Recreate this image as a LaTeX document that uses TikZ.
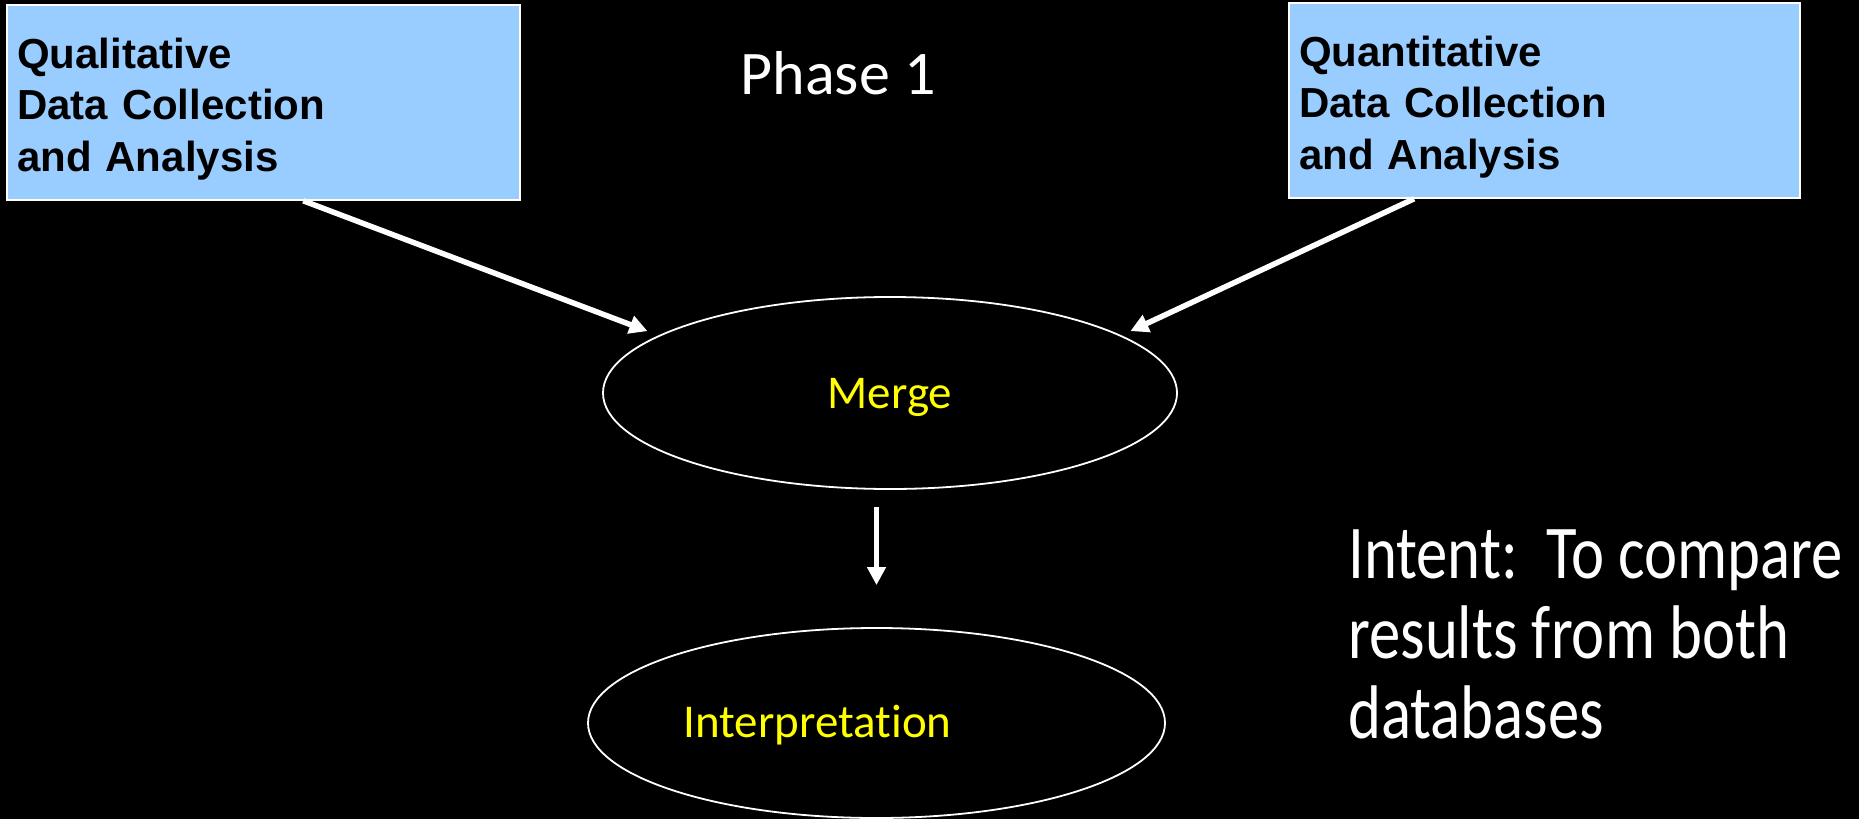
\documentclass[tikz,border=0pt]{standalone}
\usepackage{fontspec}
\usepackage{tikz}
\usetikzlibrary{shapes.geometric,arrows.meta}
\newfontfamily\boxfont{Liberation Sans}
\newfontfamily\slidefont{Carlito}[Ligatures=NoCommon]
\newfontfamily\intentfont{Carlito}[FakeStretch=0.825, Ligatures=NoCommon]
\definecolor{boxblue}{HTML}{99CCFF}
\definecolor{ovalyellow}{HTML}{FFFF00}

\begin{document}
\begin{tikzpicture}[x=1pt, y=-1pt,
	datbox/.style={draw=white, line width=1.5pt, fill=boxblue, rectangle, align=left, inner xsep=10pt, text height=43pt, minimum height=195pt, font=\boxfont\bfseries\fontsize{42}{51.5}\selectfont},
	oval/.style={draw=white, line width=1.8pt, ellipse},
	ovaltext/.style={text=ovalyellow, anchor=base, font=\slidefont\fontsize{47}{56}\selectfont},
	flow/.style={draw=white, line width=5.5pt, -{Triangle[length=18pt, width=18pt]}}]
				\useasboundingbox (0, 0) rectangle (1859, 819);
				\fill[black] (0, 0) rectangle (1859, 819);
				
				\path (263.5, 102.5) node[datbox, text width=493pt] (qual){Qualitative\\Data Collection\\and Analysis}
				(1544.5, 100.5) node[datbox, text width=491pt] (quant){Quantitative\\Data Collection\\and Analysis}
				(890, 393) node[oval, minimum width=574pt, minimum height=192pt] (merge){}
				(876.5, 723) node[oval, minimum width=577pt, minimum height=190pt] (interp){};
				
				\path (838, 94) node[anchor=base, text=white, font=\slidefont\fontsize{62}{74}\selectfont] (phase){Phase 1}
				(890, 408) node[ovaltext] (mergetext){Merge}
				(817.5, 737) node[ovaltext] (interptext){Interpretation}
				(1348, 530) node[anchor=north west, align=left, inner sep=0pt, text=white, font=\intentfont\fontsize{76}{80}\selectfont] (intent){Intent:\ \ To compare\\results from both\\databases};
				
				\draw[flow, shorten >=12pt] (qual.-68.45) -- (merge.166.2);
				\draw[flow, shorten >=10pt] (quant.-143.8) -- (merge.14.5);
				\draw[flow, line width=4.5pt, shorten <=17pt, shorten >=42pt] (merge.south -| interp.north) -- (interp.north);
			\end{tikzpicture}
\end{document}
